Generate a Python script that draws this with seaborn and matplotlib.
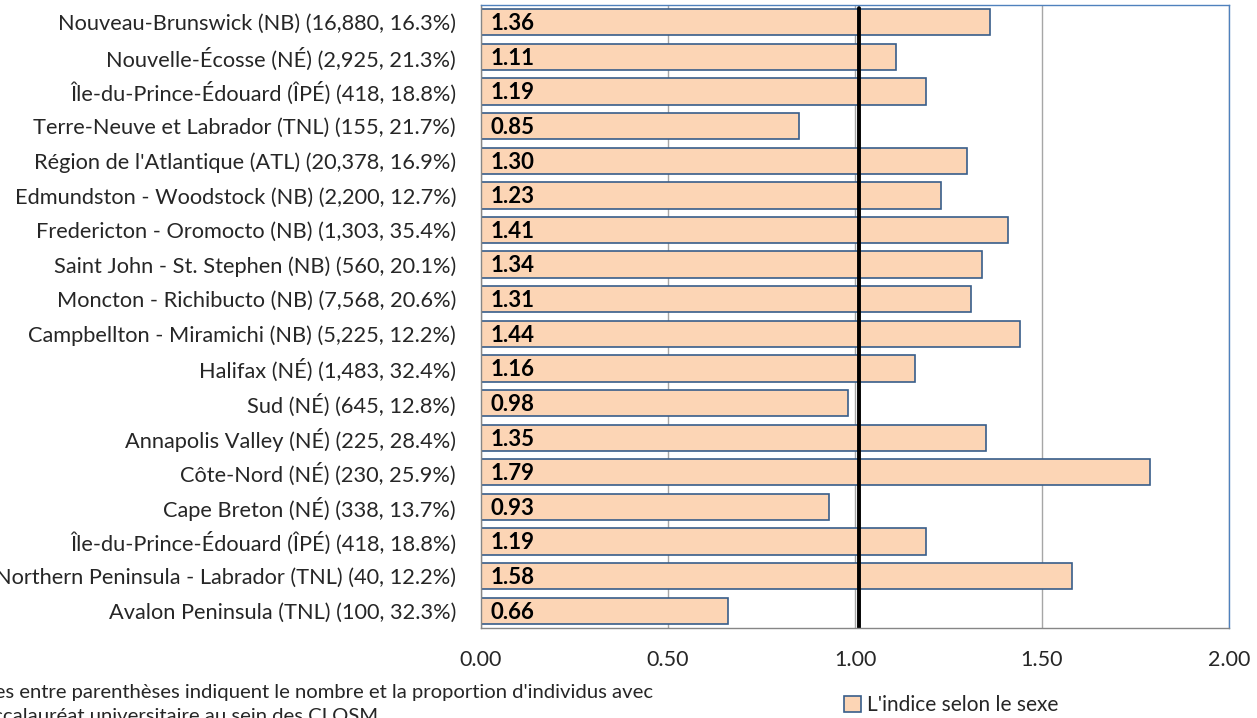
import numpy as np
import pandas as pd
import matplotlib
matplotlib.use("Agg")
import matplotlib.pyplot as plt
import seaborn as sns
from matplotlib.patches import Patch


# Data (top to bottom)

regions = [
    "Nouveau-Brunswick (NB) (16,880, 16.3%)",
    "Nouvelle-Écosse (NÉ) (2,925, 21.3%)",
    "Île-du-Prince-Édouard (ÎPÉ) (418, 18.8%)",
    "Terre-Neuve et Labrador (TNL) (155, 21.7%)",
    "Région de l'Atlantique (ATL) (20,378, 16.9%)",
    "Edmundston - Woodstock (NB) (2,200, 12.7%)",
    "Fredericton - Oromocto (NB) (1,303, 35.4%)",
    "Saint John - St. Stephen (NB) (560, 20.1%)",
    "Moncton - Richibucto (NB) (7,568, 20.6%)",
    "Campbellton - Miramichi (NB) (5,225, 12.2%)",
    "Halifax (NÉ) (1,483, 32.4%)",
    "Sud (NÉ) (645, 12.8%)",
    "Annapolis Valley (NÉ) (225, 28.4%)",
    "Côte-Nord (NÉ) (230, 25.9%)",
    "Cape Breton (NÉ) (338, 13.7%)",
    "Île-du-Prince-Édouard (ÎPÉ) (418, 18.8%)",
    "Northern Peninsula - Labrador (TNL) (40, 12.2%)",
    "Avalon Peninsula (TNL) (100, 32.3%)",
]
indice = [1.36, 1.11, 1.19, 0.85, 1.30, 1.23, 1.41, 1.34, 1.31,
          1.44, 1.16, 0.98, 1.35, 1.79, 0.93, 1.19, 1.58, 0.66]
reference_value = 1.01
xticks = [0.0, 0.5, 1.0, 1.5, 2.0]

legend_label = "L'indice selon le sexe"
note_line1 = "Les chiffres entre parenthèses indiquent le nombre et la proportion d'individus avec"
note_line2 = "un baccalauréat universitaire au sein des CLOSM"

df = pd.DataFrame({"pos": range(len(regions)), "indice": indice})


# Style

sns.set_style("white")
plt.rcParams["font.family"] = ["Lato", "DejaVu Sans"]
text_col = "#262626"
fill_col = "#FCD5B5"
edge_col = "#385D8A"
grid_col = "#A6A6A6"
blue_spine = "#4F81BD"


# Plot

fig = plt.figure(figsize=(12.57, 7.18), dpi=100)
ax = fig.add_axes([0.3827, 0.1253, 0.595, 0.8677])

sns.barplot(data=df, x="indice", y="pos", orient="h", color=fill_col,
            edgecolor=edge_col, linewidth=1.2, width=0.76, saturation=1,
            ax=ax)

ax.set_xlim(0, 2)
ax.set_ylim(len(regions) - 0.5, -0.5)
ax.set_xticks(xticks)
ax.set_xticklabels([f"{t:.2f}" for t in xticks], fontsize=15.5, color=text_col)
ax.set_yticks(range(len(regions)))
ax.set_yticklabels(regions, fontsize=15.7, color=text_col)
ax.set_yticks(np.arange(-0.5, len(regions), 1), minor=True)
ax.set_xlabel("")
ax.set_ylabel("")

ax.tick_params(axis="y", which="major", length=0, pad=18)
ax.tick_params(axis="y", which="minor", length=4, color="#868686", direction="out")
ax.tick_params(axis="x", which="major", length=5, color="#868686", direction="out", pad=11)

ax.set_axisbelow(True)
ax.xaxis.grid(True, color=grid_col, linewidth=1)

for side in ["left", "bottom"]:
    ax.spines[side].set_color("#868686")
    ax.spines[side].set_linewidth(1)
for side in ["top", "right"]:
    ax.spines[side].set_color(blue_spine)
    ax.spines[side].set_linewidth(1)

# Value labels
for p, v in zip(df["pos"], df["indice"]):
    ax.text(0.025, p + 0.04, f"{v:.2f}", ha="left", va="center",
            fontsize=16, fontweight="bold", color="black")

# Reference line
ax.axvline(reference_value, ymin=0, ymax=0.995, color="black", linewidth=2.8)

# Legend
handles = [Patch(facecolor=fill_col, edgecolor=edge_col, linewidth=1.2)]
fig.legend(handles, [legend_label], loc="center", bbox_to_anchor=(0.757, 0.018),
           frameon=False, fontsize=15, handlelength=0.8, handleheight=0.8,
           handletextpad=0.3, labelcolor=text_col)

# Footnote (cut by the figure edges, as in the source)
fig.text(653 / 1257, 0.035, note_line1, ha="right", va="center",
         fontsize=14.6, color=text_col)
fig.text(378 / 1257, 0.002, note_line2, ha="right", va="center",
         fontsize=14.6, color=text_col)

fig.savefig("out.png", dpi=100)
